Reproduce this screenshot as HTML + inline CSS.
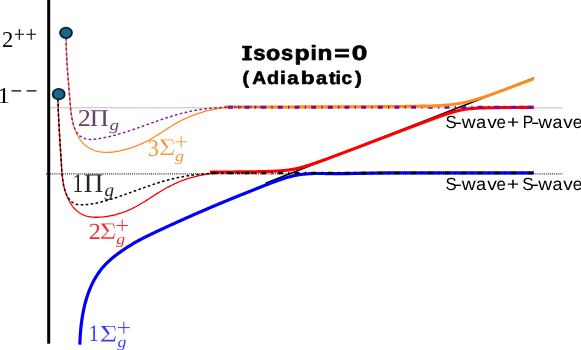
<!DOCTYPE html>
<html><head><meta charset="utf-8">
<style>
html,body{margin:0;padding:0;background:#fff;overflow:hidden;}
svg{display:block;will-change:transform;}
text{text-rendering:geometricPrecision;}
</style></head><body>
<svg width="581" height="350" viewBox="0 0 581 350">
<rect width="581" height="350" fill="#fff"/>
<!-- guides -->
<line x1="47" y1="107.8" x2="563" y2="107.8" stroke="#c0c0c0" stroke-width="1.1"/>
<line x1="46" y1="173.8" x2="563" y2="173.8" stroke="#2a2a2a" stroke-width="1.2" stroke-dasharray="1 1.1"/>
<!-- diabatic black line -->
<path d="M265.5 183.2 L533.9 77.95" fill="none" stroke="#000" stroke-width="1.5"/>
<!-- thin curves -->
<path d="M66.13 37.84 L66.14 38.88 L66.15 39.92 L66.16 40.95 L66.18 41.98 L66.20 43.01 L66.22 44.04 L66.24 45.06 L66.26 46.08 L66.29 47.10 L66.32 48.12 L66.35 49.13 L66.39 50.15 L66.43 51.16 L66.46 52.16 L66.50 53.17 L66.55 54.17 L66.59 55.18 L66.64 56.18 L66.69 57.18 L66.74 58.18 L66.79 59.17 L66.84 60.17 L66.90 61.17 L66.95 62.16 L67.01 63.15 L67.07 64.14 L67.13 65.14 L67.20 66.13 L67.26 67.12 L67.33 68.11 L67.39 69.09 L67.46 70.08 L67.53 71.07 L67.60 72.06 L67.68 73.05 L67.75 74.03 L67.82 75.02 L67.90 76.01 L67.98 77.00 L68.05 77.99 L68.13 78.98 L68.21 79.97 L68.29 80.96 L68.37 81.95 L68.45 82.94 L68.54 83.93 L68.62 84.93 L68.70 85.92 L68.79 86.92 L68.87 87.92 L68.96 88.91 L69.04 89.91 L69.13 90.92 L69.22 91.92 L69.30 92.92 L69.39 93.93 L69.48 94.94 L69.57 95.95 L69.65 96.96 L69.74 97.97 L69.83 98.99 L69.92 100.01 L70.01 101.03 L70.10 102.05 L70.19 103.08 L70.28 104.10 L70.37 105.13 L70.47 106.16 L70.57 107.19 L70.68 108.21 L70.79 109.24 L70.90 110.27 L71.03 111.29 L71.15 112.32 L71.29 113.34 L71.43 114.36 L71.58 115.38 L71.74 116.40 L71.91 117.41 L72.09 118.42 L72.28 119.43 L72.48 120.43 L72.70 121.43 L72.92 122.42 L73.16 123.41 L73.41 124.39 L73.68 125.37 L73.96 126.34 L74.25 127.31 L74.56 128.27 L74.89 129.22 L75.24 130.16 L75.60 131.10 L75.98 132.03 L76.38 132.95 L76.80 133.86 L77.24 134.76 L77.69 135.65 L78.17 136.52 L78.66 137.37 L79.18 138.22 L79.72 139.04 L80.28 139.84 L80.86 140.63 L81.46 141.40 L82.08 142.14 L82.73 142.86 L83.39 143.56 L84.09 144.23 L84.80 144.88 L85.54 145.50 L86.29 146.09 L87.07 146.66 L87.87 147.20 L88.68 147.71 L89.51 148.20 L90.36 148.66 L91.23 149.10 L92.11 149.51 L93.00 149.89 L93.91 150.24 L94.83 150.57 L95.77 150.87 L96.71 151.14 L97.66 151.39 L98.63 151.61 L99.60 151.80 L100.58 151.96 L101.56 152.10 L102.55 152.21 L103.55 152.29 L104.55 152.35 L105.56 152.39 L106.57 152.41 L107.59 152.40 L108.61 152.37 L109.63 152.32 L110.65 152.25 L111.68 152.16 L112.70 152.05 L113.73 151.93 L114.76 151.79 L115.78 151.63 L116.81 151.46 L117.83 151.28 L118.85 151.08 L119.87 150.87 L120.89 150.65 L121.90 150.41 L122.91 150.17 L123.91 149.92 L124.91 149.66 L125.90 149.39 L126.89 149.11 L127.87 148.82 L128.85 148.53 L129.82 148.22 L130.78 147.91 L131.75 147.59 L132.70 147.27 L133.66 146.93 L134.60 146.59 L135.55 146.24 L136.48 145.88 L137.42 145.51 L138.34 145.13 L139.27 144.75 L140.19 144.36 L141.10 143.96 L142.01 143.55 L142.92 143.14 L143.82 142.71 L144.72 142.28 L145.61 141.85 L146.50 141.40 L147.39 140.95 L148.27 140.48 L149.15 140.02 L150.02 139.54 L150.89 139.05 L151.76 138.56 L152.62 138.06 L153.48 137.56 L154.34 137.05 L155.19 136.53 L156.04 136.00 L156.89 135.47 L157.74 134.94 L158.58 134.40 L159.43 133.86 L160.27 133.32 L161.11 132.78 L161.95 132.23 L162.79 131.68 L163.63 131.13 L164.47 130.58 L165.31 130.03 L166.15 129.48 L166.99 128.94 L167.84 128.39 L168.68 127.85 L169.53 127.31 L170.38 126.77 L171.23 126.24 L172.09 125.71 L172.94 125.19 L173.81 124.67 L174.67 124.16 L175.54 123.66 L176.41 123.16 L177.29 122.67 L178.17 122.19 L179.05 121.71 L179.94 121.24 L180.84 120.78 L181.73 120.33 L182.63 119.88 L183.54 119.45 L184.45 119.02 L185.36 118.59 L186.27 118.18 L187.19 117.77 L188.11 117.37 L189.04 116.97 L189.97 116.59 L190.90 116.21 L191.84 115.84 L192.78 115.48 L193.72 115.12 L194.66 114.77 L195.61 114.43 L196.56 114.10 L197.51 113.77 L198.47 113.45 L199.43 113.14 L200.39 112.84 L201.35 112.54 L202.32 112.26 L203.28 111.98 L204.25 111.70 L205.23 111.44 L206.20 111.18 L207.18 110.93 L208.16 110.69 L209.14 110.45 L210.12 110.22 L211.10 110.00 L212.09 109.79 L213.07 109.58 L214.06 109.38 L215.05 109.19 L216.04 109.01 L217.04 108.84 L218.03 108.67 L219.03 108.51 L220.02 108.36 L221.02 108.21 L222.02 108.07 L223.02 107.94 L224.02 107.82 L225.02 107.71 L226.02 107.60 L227.02 107.50" fill="none" stroke="#ff8c1a" stroke-width="1.3"/>
<path d="M57.90 98.96 L57.94 99.99 L57.98 101.01 L58.01 102.03 L58.05 103.05 L58.09 104.07 L58.13 105.09 L58.17 106.10 L58.21 107.11 L58.25 108.13 L58.30 109.14 L58.34 110.15 L58.38 111.16 L58.43 112.17 L58.47 113.17 L58.51 114.18 L58.56 115.18 L58.61 116.19 L58.65 117.19 L58.70 118.19 L58.75 119.19 L58.79 120.19 L58.84 121.19 L58.89 122.19 L58.94 123.19 L58.99 124.19 L59.04 125.19 L59.09 126.18 L59.14 127.18 L59.19 128.17 L59.25 129.17 L59.30 130.17 L59.35 131.16 L59.40 132.15 L59.46 133.15 L59.51 134.14 L59.57 135.14 L59.62 136.13 L59.68 137.13 L59.74 138.12 L59.79 139.11 L59.85 140.11 L59.91 141.10 L59.97 142.10 L60.03 143.09 L60.09 144.09 L60.15 145.08 L60.21 146.08 L60.27 147.07 L60.33 148.07 L60.39 149.07 L60.45 150.06 L60.51 151.06 L60.58 152.06 L60.64 153.06 L60.70 154.06 L60.77 155.06 L60.83 156.06 L60.90 157.06 L60.96 158.07 L61.03 159.07 L61.09 160.08 L61.16 161.08 L61.23 162.09 L61.30 163.10 L61.36 164.11 L61.43 165.12 L61.50 166.13 L61.57 167.14 L61.64 168.16 L61.72 169.17 L61.79 170.19 L61.88 171.20 L61.96 172.21 L62.05 173.23 L62.15 174.24 L62.25 175.26 L62.36 176.27 L62.47 177.28 L62.60 178.29 L62.73 179.30 L62.87 180.31 L63.03 181.32 L63.19 182.32 L63.36 183.32 L63.55 184.32 L63.75 185.32 L63.96 186.32 L64.18 187.31 L64.42 188.30 L64.68 189.28 L64.95 190.26 L65.23 191.24 L65.54 192.22 L65.86 193.19 L66.20 194.15 L66.55 195.11 L66.93 196.07 L67.32 197.01 L67.73 197.95 L68.15 198.87 L68.60 199.79 L69.06 200.69 L69.55 201.57 L70.05 202.45 L70.56 203.31 L71.10 204.15 L71.66 204.97 L72.23 205.77 L72.82 206.56 L73.44 207.32 L74.07 208.06 L74.72 208.78 L75.38 209.48 L76.07 210.14 L76.78 210.79 L77.50 211.40 L78.25 211.99 L79.01 212.54 L79.80 213.07 L80.60 213.56 L81.42 214.03 L82.27 214.45 L83.13 214.85 L84.01 215.21 L84.90 215.53 L85.82 215.83 L86.75 216.09 L87.69 216.33 L88.65 216.54 L89.61 216.72 L90.59 216.87 L91.58 217.00 L92.58 217.10 L93.59 217.17 L94.61 217.23 L95.63 217.26 L96.66 217.27 L97.69 217.26 L98.73 217.23 L99.76 217.18 L100.80 217.12 L101.84 217.04 L102.88 216.94 L103.92 216.83 L104.96 216.70 L105.99 216.56 L107.02 216.41 L108.04 216.24 L109.06 216.07 L110.08 215.88 L111.09 215.68 L112.09 215.47 L113.09 215.25 L114.09 215.02 L115.08 214.77 L116.07 214.51 L117.05 214.25 L118.03 213.97 L119.00 213.68 L119.97 213.38 L120.94 213.07 L121.89 212.75 L122.85 212.42 L123.80 212.08 L124.74 211.73 L125.68 211.36 L126.62 210.99 L127.54 210.61 L128.47 210.22 L129.39 209.82 L130.30 209.41 L131.21 208.99 L132.11 208.56 L133.01 208.12 L133.91 207.67 L134.79 207.22 L135.68 206.75 L136.55 206.28 L137.43 205.80 L138.30 205.31 L139.16 204.81 L140.02 204.31 L140.88 203.80 L141.74 203.29 L142.59 202.77 L143.44 202.25 L144.29 201.72 L145.13 201.19 L145.98 200.66 L146.82 200.12 L147.66 199.59 L148.50 199.05 L149.34 198.50 L150.18 197.96 L151.02 197.42 L151.86 196.87 L152.70 196.33 L153.54 195.79 L154.38 195.25 L155.23 194.71 L156.07 194.17 L156.92 193.64 L157.77 193.11 L158.62 192.58 L159.47 192.05 L160.33 191.53 L161.19 191.02 L162.05 190.51 L162.92 190.00 L163.79 189.50 L164.66 189.00 L165.53 188.51 L166.41 188.02 L167.28 187.54 L168.17 187.06 L169.05 186.59 L169.94 186.13 L170.83 185.67 L171.72 185.22 L172.62 184.77 L173.52 184.33 L174.43 183.90 L175.33 183.48 L176.24 183.06 L177.16 182.65 L178.08 182.25 L179.00 181.86 L179.92 181.47 L180.85 181.10 L181.78 180.73 L182.71 180.37 L183.65 180.02 L184.59 179.67 L185.54 179.34 L186.49 179.02 L187.44 178.71 L188.40 178.40 L189.36 178.11 L190.32 177.82 L191.29 177.55 L192.27 177.29 L193.24 177.03 L194.22 176.79 L195.20 176.55 L196.19 176.32 L197.17 176.10 L198.16 175.89 L199.15 175.68 L200.15 175.48 L201.14 175.29 L202.14 175.10 L203.13 174.91 L204.13 174.73 L205.12 174.55 L206.12 174.38 L207.12 174.20 L208.11 174.03 L209.11 173.87 L210.10 173.70 L211.09 173.53 L212.08 173.37 L213.07 173.20 L214.06 173.03 L215.04 172.86 L216.02 172.69" fill="none" stroke="#ff0000" stroke-width="1.3"/>
<!-- thick adiabatic -->
<path d="M79.84 344.67 L79.87 343.69 L79.91 342.71 L79.94 341.72 L79.99 340.74 L80.03 339.75 L80.08 338.76 L80.14 337.77 L80.20 336.77 L80.26 335.77 L80.32 334.77 L80.39 333.77 L80.47 332.77 L80.55 331.77 L80.63 330.77 L80.72 329.76 L80.82 328.75 L80.92 327.75 L81.02 326.74 L81.13 325.73 L81.25 324.72 L81.37 323.72 L81.49 322.71 L81.62 321.70 L81.76 320.69 L81.90 319.68 L82.05 318.67 L82.20 317.67 L82.37 316.66 L82.53 315.66 L82.70 314.65 L82.88 313.65 L83.07 312.65 L83.26 311.65 L83.46 310.65 L83.67 309.65 L83.88 308.66 L84.10 307.66 L84.33 306.67 L84.56 305.69 L84.80 304.70 L85.05 303.72 L85.31 302.74 L85.57 301.76 L85.84 300.78 L86.12 299.81 L86.41 298.84 L86.70 297.88 L87.01 296.92 L87.32 295.96 L87.64 295.00 L87.97 294.05 L88.30 293.11 L88.65 292.17 L89.00 291.23 L89.37 290.30 L89.74 289.37 L90.12 288.45 L90.51 287.53 L90.91 286.61 L91.32 285.71 L91.74 284.80 L92.16 283.91 L92.60 283.01 L93.05 282.13 L93.50 281.25 L93.97 280.37 L94.45 279.51 L94.93 278.65 L95.43 277.79 L95.94 276.94 L96.46 276.10 L96.98 275.27 L97.52 274.44 L98.07 273.62 L98.63 272.80 L99.21 272.00 L99.79 271.20 L100.38 270.41 L100.99 269.63 L101.60 268.85 L102.23 268.09 L102.87 267.33 L103.52 266.58 L104.19 265.84 L104.86 265.10 L105.55 264.38 L106.24 263.66 L106.95 262.96 L107.67 262.26 L108.39 261.56 L109.13 260.88 L109.88 260.20 L110.63 259.53 L111.39 258.87 L112.17 258.21 L112.94 257.57 L113.73 256.92 L114.52 256.29 L115.32 255.66 L116.13 255.04 L116.94 254.42 L117.76 253.81 L118.58 253.21 L119.40 252.61 L120.23 252.02 L121.07 251.43 L121.91 250.85 L122.75 250.28 L123.59 249.71 L124.44 249.14 L125.29 248.58 L126.14 248.02 L127.00 247.47 L127.85 246.92 L128.71 246.38 L129.57 245.84 L130.42 245.31 L131.29 244.78 L132.15 244.26 L133.02 243.74 L133.88 243.22 L134.75 242.71 L135.62 242.21 L136.49 241.71 L137.37 241.22 L138.25 240.73 L139.13 240.25 L140.01 239.77 L140.89 239.30 L141.77 238.83 L142.66 238.37 L143.55 237.91 L144.44 237.46 L145.33 237.01 L146.22 236.57 L147.12 236.13 L148.02 235.69 L148.91 235.25 L149.81 234.82 L150.71 234.38 L151.61 233.95 L152.51 233.53 L153.41 233.10 L154.32 232.67 L155.22 232.24 L156.12 231.82 L157.03 231.39 L157.93 230.97 L158.84 230.54 L159.74 230.12 L160.65 229.70 L161.55 229.28 L162.46 228.85 L163.37 228.43 L164.28 228.01 L165.19 227.59 L166.10 227.17 L167.00 226.75 L167.91 226.33 L168.83 225.91 L169.74 225.50 L170.65 225.08 L171.56 224.66 L172.47 224.25 L173.38 223.83 L174.30 223.42 L175.21 223.00 L176.13 222.59 L177.04 222.17 L177.95 221.76 L178.87 221.35 L179.79 220.94 L180.70 220.52 L181.62 220.11 L182.54 219.70 L183.45 219.29 L184.37 218.88 L185.29 218.47 L186.21 218.07 L187.13 217.66 L188.05 217.25 L188.97 216.84 L189.89 216.44 L190.81 216.03 L191.73 215.63 L192.65 215.22 L193.57 214.82 L194.49 214.41 L195.41 214.01 L196.34 213.61 L197.26 213.21 L198.18 212.81 L199.11 212.40 L200.03 212.00 L200.95 211.60 L201.88 211.20 L202.80 210.81 L203.73 210.41 L204.65 210.01 L205.58 209.61 L206.51 209.21 L207.43 208.82 L208.36 208.42 L209.29 208.03 L210.21 207.63 L211.14 207.24 L212.07 206.84 L213.00 206.45 L213.92 206.06 L214.85 205.67 L215.78 205.27 L216.71 204.88 L217.64 204.49 L218.57 204.10 L219.50 203.71 L220.43 203.32 L221.36 202.93 L222.29 202.55 L223.22 202.16 L224.15 201.77 L225.08 201.39 L226.02 201.00 L226.95 200.61 L227.88 200.23 L228.81 199.84 L229.74 199.46 L230.68 199.08 L231.61 198.69 L232.54 198.31 L233.47 197.93 L234.41 197.55 L235.34 197.17 L236.27 196.79 L237.21 196.41 L238.14 196.03 L239.08 195.65 L240.01 195.27 L240.94 194.89 L241.88 194.51 L242.81 194.14 L243.75 193.76 L244.68 193.39 L245.62 193.01 L246.55 192.64 L247.49 192.26 L248.42 191.89 L249.36 191.51 L250.29 191.14 L251.23 190.77 L252.17 190.40 L253.10 190.03 L254.04 189.66 L254.97 189.29 L255.91 188.92 L256.85 188.55 L257.78 188.18 L258.72 187.81 L259.65 187.44 L260.59 187.07 L261.53 186.71 L262.46 186.34 L263.40 185.98 L264.34 185.61 L265.27 185.25 L266.21 184.88 L267.15 184.52 L268.08 184.16 L269.02 183.79 L269.96 183.43 L270.90 183.07 L271.83 182.71 L272.77 182.36 L273.71 182.01 L274.65 181.66 L275.59 181.31 L276.53 180.97 L277.47 180.63 L278.42 180.29 L279.36 179.96 L280.31 179.63 L281.25 179.31 L282.20 179.00 L283.15 178.69 L284.10 178.39 L285.05 178.09 L286.01 177.80 L286.96 177.52 L287.92 177.24 L288.88 176.98 L289.85 176.72 L290.81 176.47 L291.78 176.23 L292.75 175.99 L293.72 175.77 L294.69 175.56 L295.67 175.36 L296.65 175.17 L297.63 174.98 L298.61 174.81 L299.60 174.66 L300.59 174.51 L301.59 174.38 L302.58 174.25 L303.58 174.14 L304.59 174.04 L305.59 173.95 L306.60 173.86 L307.60 173.79 L308.62 173.73 L309.63 173.67 L310.64 173.62 L311.66 173.58 L312.67 173.54 L313.69 173.52 L314.71 173.50 L315.73 173.50 L316.75 173.50 L317.77 173.50 L318.79 173.50 L319.81 173.50 L320.84 173.50 L321.86 173.50 L322.88 173.50 L323.90 173.50 L324.92 173.52 L325.94 173.54 L326.96 173.56 L327.98 173.57 L329.00 173.59 L330.01 173.61 L331.03 173.63 L332.04 173.65 L333.05 173.66 L334.06 173.68 L335.07 173.69 L336.07 173.69 L337.08 173.70 L338.08 173.70 L339.08 173.70 L340.07 173.69 L341.06 173.68 L342.05 173.66 L343.04 173.63 L344.02 173.60 L345.00 173.57 L355 173.4 L372 173.1 L390 172.95 L533.9 172.9" fill="none" stroke="#0000f5" stroke-width="3.2" stroke-linejoin="round"/>
<path d="M210.00 172.05 L211.00 172.05 L212.00 172.04 L213.00 172.04 L214.00 172.03 L215.00 172.03 L216.00 172.03 L217.00 172.02 L218.00 172.02 L219.00 172.01 L220.00 172.01 L221.00 172.00 L222.00 172.00 L223.00 171.99 L224.00 171.99 L225.00 171.98 L226.00 171.98 L227.00 171.97 L228.00 171.97 L229.00 171.96 L230.00 171.96 L231.00 171.95 L232.00 171.94 L233.00 171.94 L234.00 171.93 L235.00 171.92 L236.00 171.91 L237.00 171.91 L238.00 171.90 L239.00 171.89 L240.00 171.88 L241.00 171.87 L242.00 171.86 L243.00 171.86 L244.00 171.85 L245.00 171.84 L246.00 171.82 L247.00 171.81 L248.00 171.80 L249.00 171.79 L250.00 171.78 L251.00 171.77 L252.00 171.75 L253.00 171.74 L254.00 171.72 L255.00 171.71 L256.00 171.69 L257.00 171.67 L258.00 171.66 L259.00 171.64 L260.00 171.62 L261.00 171.60 L262.00 171.58 L263.00 171.55 L264.00 171.53 L265.00 171.50 L266.00 171.48 L267.00 171.45 L268.00 171.42 L269.00 171.39 L270.00 171.35 L271.00 171.31 L272.00 171.28 L273.00 171.23 L274.00 171.19 L275.00 171.14 L276.00 171.09 L277.00 171.04 L278.00 170.98 L279.00 170.92 L280.00 170.85 L281.00 170.77 L282.00 170.70 L283.00 170.61 L284.00 170.52 L285.00 170.42 L286.00 170.31 L287.00 170.20 L288.00 170.07 L289.00 169.94 L290.00 169.79 L291.00 169.64 L292.00 169.47 L293.00 169.30 L294.00 169.11 L295.00 168.91 L296.00 168.70 L297.00 168.48 L298.00 168.24 L299.00 168.00 L300.00 167.75 L301.00 167.48 L302.00 167.21 L303.00 166.93 L304.00 166.64 L305.00 166.35 L306.00 166.05 L307.00 165.74 L308.00 165.43 L309.00 165.11 L310.00 164.78 L311.00 164.46 L312.00 164.12 L313.00 163.79 L314.00 163.45 L315.00 163.11 L316.00 162.76 L317.00 162.42 L318.00 162.07 L319.00 161.71 L320.00 161.36 L321.00 161.00 L322.00 160.65 L323.00 160.29 L324.00 159.93 L325.00 159.56 L326.00 159.20 L327.00 158.84 L328.00 158.47 L329.00 158.11 L330.00 157.74 L331.00 157.37 L332.00 157.00 L333.00 156.63 L334.00 156.26 L335.00 155.89 L336.00 155.52 L337.00 155.15 L338.00 154.77 L339.00 154.40 L340.00 154.02 L341.00 153.65 L342.00 153.28 L343.00 152.90 L344.00 152.52 L345.00 152.15 L346.00 151.77 L347.00 151.40 L348.00 151.02 L349.00 150.64 L350.00 150.26 L351.00 149.89 L352.00 149.51 L353.00 149.13 L354.00 148.75 L355.00 148.37 L356.00 148.00 L357.00 147.62 L358.00 147.24 L359.00 146.86 L360.00 146.48 L361.00 146.10 L362.00 145.72 L363.00 145.34 L364.00 144.96 L365.00 144.58 L366.00 144.20 L367.00 143.82 L368.00 143.44 L369.00 143.06 L370.00 142.68 L371.00 142.30 L372.00 141.92 L373.00 141.54 L374.00 141.16 L375.00 140.78 L376.00 140.39 L377.00 140.01 L378.00 139.63 L379.00 139.25 L380.00 138.87 L381.00 138.49 L382.00 138.11 L383.00 137.73 L384.00 137.35 L385.00 136.97 L386.00 136.59 L387.00 136.21 L388.00 135.82 L389.00 135.44 L390.00 135.06 L391.00 134.68 L392.00 134.30 L393.00 133.92 L394.00 133.54 L395.00 133.16 L396.00 132.78 L397.00 132.40 L398.00 132.02 L399.00 131.64 L400.00 131.26 L401.00 130.88 L402.00 130.50 L403.00 130.12 L404.00 129.74 L405.00 129.36 L406.00 128.98 L407.00 128.60 L408.00 128.22 L409.00 127.84 L410.00 127.47 L411.00 127.09 L412.00 126.71 L413.00 126.33 L414.00 125.95 L415.00 125.58 L416.00 125.20 L417.00 124.82 L418.00 124.45 L419.00 124.07 L420.00 123.70 L421.00 123.32 L422.00 122.95 L423.00 122.57 L424.00 122.20 L425.00 121.83 L426.00 121.46 L427.00 121.08 L428.00 120.71 L429.00 120.34 L430.00 119.97 L431.00 119.61 L432.00 119.24 L433.00 118.87 L434.00 118.51 L435.00 118.14 L436.00 117.78 L437.00 117.42 L438.00 117.06 L439.00 116.70 L440.00 116.35 L441.00 115.99 L442.00 115.64 L443.00 115.30 L444.00 114.95 L445.00 114.61 L446.00 114.27 L447.00 113.94 L448.00 113.61 L449.00 113.28 L450.00 112.96 L451.00 112.65 L452.00 112.35 L453.00 112.05 L454.00 111.76 L455.00 111.48 L456.00 111.20 L457.00 110.94 L458.00 110.69 L459.00 110.46 L460.00 110.23 L461.00 110.02 L462.00 109.82 L463.00 109.64 L464.00 109.46 L465.00 109.30 L466.00 109.16 L467.00 109.02 L468.00 108.90 L469.00 108.79 L470.00 108.68 L471.00 108.59 L472.00 108.50 L473.00 108.43 L474.00 108.35 L475.00 108.29 L476.00 108.23 L477.00 108.17 L478.00 108.12 L479.00 108.07 L480.00 108.03 L481.00 107.99 L482.00 107.95 L483.00 107.92 L484.00 107.89 L485.00 107.86 L486.00 107.83 L487.00 107.80 L488.00 107.78 L489.00 107.76 L490.00 107.74 L491.00 107.72 L492.00 107.70 L493.00 107.68 L494.00 107.66 L495.00 107.65 L496.00 107.63 L497.00 107.62 L498.00 107.60 L499.00 107.59 L500.00 107.58 L501.00 107.57 L502.00 107.55 L503.00 107.54 L504.00 107.53 L505.00 107.52 L506.00 107.52 L507.00 107.51 L508.00 107.50 L509.00 107.49 L510.00 107.48 L511.00 107.47 L512.00 107.47 L513.00 107.46 L514.00 107.45 L515.00 107.45 L516.00 107.44 L517.00 107.44 L518.00 107.43 L519.00 107.42 L520.00 107.42 L521.00 107.41 L522.00 107.41 L523.00 107.40 L524.00 107.40 L525.00 107.40 L526.00 107.39 L527.00 107.39 L528.00 107.38 L529.00 107.38 L530.00 107.38 L531.00 107.37 L532.00 107.37 L533.00 107.36 L533.90 107.36" fill="none" stroke="#ff0000" stroke-width="3.1" stroke-linejoin="round"/>
<path d="M224.50 107.01 L225.50 107.01 L226.50 107.01 L227.50 107.01 L228.50 107.01 L229.50 107.00 L230.50 107.00 L231.50 107.00 L232.50 107.00 L233.50 107.00 L234.50 107.00 L235.50 107.00 L236.50 107.00 L237.50 107.00 L238.50 107.00 L239.50 107.00 L240.50 106.99 L241.50 106.99 L242.50 106.99 L243.50 106.99 L244.50 106.99 L245.50 106.99 L246.50 106.99 L247.50 106.99 L248.50 106.99 L249.50 106.99 L250.50 106.99 L251.50 106.98 L252.50 106.98 L253.50 106.98 L254.50 106.98 L255.50 106.98 L256.50 106.98 L257.50 106.98 L258.50 106.98 L259.50 106.98 L260.50 106.97 L261.50 106.97 L262.50 106.97 L263.50 106.97 L264.50 106.97 L265.50 106.97 L266.50 106.97 L267.50 106.97 L268.50 106.97 L269.50 106.96 L270.50 106.96 L271.50 106.96 L272.50 106.96 L273.50 106.96 L274.50 106.96 L275.50 106.96 L276.50 106.96 L277.50 106.95 L278.50 106.95 L279.50 106.95 L280.50 106.95 L281.50 106.95 L282.50 106.95 L283.50 106.95 L284.50 106.94 L285.50 106.94 L286.50 106.94 L287.50 106.94 L288.50 106.94 L289.50 106.94 L290.50 106.94 L291.50 106.93 L292.50 106.93 L293.50 106.93 L294.50 106.93 L295.50 106.93 L296.50 106.93 L297.50 106.92 L298.50 106.92 L299.50 106.92 L300.50 106.92 L301.50 106.92 L302.50 106.92 L303.50 106.91 L304.50 106.91 L305.50 106.91 L306.50 106.91 L307.50 106.91 L308.50 106.90 L309.50 106.90 L310.50 106.90 L311.50 106.90 L312.50 106.90 L313.50 106.89 L314.50 106.89 L315.50 106.89 L316.50 106.89 L317.50 106.89 L318.50 106.88 L319.50 106.88 L320.50 106.88 L321.50 106.88 L322.50 106.88 L323.50 106.87 L324.50 106.87 L325.50 106.87 L326.50 106.87 L327.50 106.86 L328.50 106.86 L329.50 106.86 L330.50 106.86 L331.50 106.85 L332.50 106.85 L333.50 106.85 L334.50 106.85 L335.50 106.84 L336.50 106.84 L337.50 106.84 L338.50 106.83 L339.50 106.83 L340.50 106.83 L341.50 106.83 L342.50 106.82 L343.50 106.82 L344.50 106.82 L345.50 106.81 L346.50 106.81 L347.50 106.81 L348.50 106.80 L349.50 106.80 L350.50 106.80 L351.50 106.79 L352.50 106.79 L353.50 106.78 L354.50 106.78 L355.50 106.78 L356.50 106.77 L357.50 106.77 L358.50 106.76 L359.50 106.76 L360.50 106.76 L361.50 106.75 L362.50 106.75 L363.50 106.74 L364.50 106.74 L365.50 106.73 L366.50 106.73 L367.50 106.72 L368.50 106.72 L369.50 106.71 L370.50 106.71 L371.50 106.70 L372.50 106.70 L373.50 106.69 L374.50 106.69 L375.50 106.68 L376.50 106.68 L377.50 106.67 L378.50 106.66 L379.50 106.66 L380.50 106.65 L381.50 106.64 L382.50 106.64 L383.50 106.63 L384.50 106.62 L385.50 106.62 L386.50 106.61 L387.50 106.60 L388.50 106.59 L389.50 106.59 L390.50 106.58 L391.50 106.57 L392.50 106.56 L393.50 106.55 L394.50 106.54 L395.50 106.53 L396.50 106.52 L397.50 106.51 L398.50 106.50 L399.50 106.49 L400.50 106.48 L401.50 106.47 L402.50 106.46 L403.50 106.45 L404.50 106.43 L405.50 106.42 L406.50 106.41 L407.50 106.39 L408.50 106.38 L409.50 106.37 L410.50 106.35 L411.50 106.34 L412.50 106.32 L413.50 106.30 L414.50 106.29 L415.50 106.27 L416.50 106.25 L417.50 106.23 L418.50 106.21 L419.50 106.19 L420.50 106.17 L421.50 106.15 L422.50 106.12 L423.50 106.10 L424.50 106.07 L425.00 106.06" fill="none" stroke="#ff8c1a" stroke-width="3.1"/>
<!-- threshold dash-dot -->
<line x1="211.3" y1="173.1" x2="533.9" y2="173.1" stroke="#000" stroke-width="2.5" stroke-dasharray="4.9 5.3 1.2 5.26"/>
<line x1="227.9" y1="107.2" x2="533.9" y2="107.2" stroke="#7a0a9a" stroke-width="3" stroke-dasharray="4.9 5.3 1.2 5.26"/>
<path d="M420.00 106.18 L421.00 106.16 L422.00 106.13 L423.00 106.11 L424.00 106.08 L425.00 106.06 L426.00 106.03 L427.00 106.00 L428.00 105.97 L429.00 105.94 L430.00 105.91 L431.00 105.87 L432.00 105.84 L433.00 105.80 L434.00 105.76 L435.00 105.72 L436.00 105.68 L437.00 105.63 L438.00 105.58 L439.00 105.53 L440.00 105.47 L441.00 105.42 L442.00 105.36 L443.00 105.29 L444.00 105.22 L445.00 105.15 L446.00 105.07 L447.00 104.99 L448.00 104.91 L449.00 104.82 L450.00 104.72 L451.00 104.61 L452.00 104.50 L453.00 104.39 L454.00 104.26 L455.00 104.13 L456.00 104.00 L457.00 103.85 L458.00 103.69 L459.00 103.53 L460.00 103.36 L461.00 103.18 L462.00 102.99 L463.00 102.79 L464.00 102.58 L465.00 102.36 L466.00 102.14 L467.00 101.91 L468.00 101.66 L469.00 101.41 L470.00 101.16 L471.00 100.89 L472.00 100.62 L473.00 100.34 L474.00 100.06 L475.00 99.76 L476.00 99.47 L477.00 99.17 L478.00 98.86 L479.00 98.55 L480.00 98.23 L481.00 97.91 L482.00 97.59 L483.00 97.26 L484.00 96.93 L485.00 96.60 L486.00 96.26 L487.00 95.92 L488.00 95.58 L489.00 95.24 L490.00 94.89 L491.00 94.54 L492.00 94.19 L493.00 93.84 L494.00 93.49 L495.00 93.13 L496.00 92.78 L497.00 92.42 L498.00 92.06 L499.00 91.70 L500.00 91.34 L501.00 90.98 L502.00 90.61 L503.00 90.25 L504.00 89.88 L505.00 89.52 L506.00 89.15 L507.00 88.78 L508.00 88.41 L509.00 88.04 L510.00 87.67 L511.00 87.30 L512.00 86.93 L513.00 86.56 L514.00 86.19 L515.00 85.81 L516.00 85.44 L517.00 85.07 L518.00 84.69 L519.00 84.32 L520.00 83.94 L521.00 83.57 L522.00 83.19 L523.00 82.81 L524.00 82.44 L525.00 82.06 L526.00 81.68 L527.00 81.31 L528.00 80.93 L529.00 80.55 L530.00 80.17 L531.00 79.79 L532.00 79.42 L533.00 79.04 L533.90 78.69" fill="none" stroke="#ff8c1a" stroke-width="2.9" stroke-linejoin="round"/>
<path d="M66.15 37.84 L66.15 38.88 L66.15 39.92 L66.15 40.95 L66.16 41.98 L66.17 43.01 L66.19 44.03 L66.20 45.05 L66.23 46.07 L66.25 47.09 L66.28 48.11 L66.31 49.12 L66.34 50.13 L66.37 51.14 L66.41 52.15 L66.45 53.16 L66.49 54.16 L66.54 55.16 L66.59 56.16 L66.64 57.16 L66.69 58.16 L66.74 59.16 L66.80 60.15 L66.86 61.15 L66.92 62.14 L66.98 63.13 L67.05 64.13 L67.11 65.12 L67.18 66.11 L67.25 67.10 L67.32 68.09 L67.39 69.07 L67.46 70.06 L67.54 71.05 L67.61 72.04 L67.69 73.03 L67.77 74.02 L67.85 75.00 L67.93 75.99 L68.01 76.98 L68.09 77.97 L68.17 78.96 L68.25 79.95 L68.33 80.94 L68.42 81.93 L68.50 82.93 L68.58 83.92 L68.67 84.91 L68.75 85.91 L68.83 86.90 L68.92 87.90 L69.00 88.90 L69.08 89.90 L69.17 90.90 L69.25 91.91 L69.33 92.91 L69.41 93.92 L69.50 94.93 L69.58 95.94 L69.66 96.95 L69.74 97.97 L69.81 98.99 L69.89 100.00 L69.97 101.03 L70.05 102.05 L70.12 103.08 L70.20 104.10 L70.28 105.13 L70.37 106.16 L70.46 107.19 L70.55 108.23 L70.65 109.26 L70.75 110.29 L70.87 111.32 L70.99 112.36 L71.12 113.39 L71.26 114.42 L71.41 115.45 L71.58 116.48 L71.75 117.51 L71.94 118.53 L72.14 119.56 L72.36 120.58 L72.59 121.60 L72.84 122.62 L73.11 123.63 L73.40 124.63 L73.71 125.62 L74.04 126.59 L74.39 127.55 L74.76 128.49 L75.16 129.41 L75.59 130.29 L76.04 131.15 L76.52 131.98 L77.04 132.78 L77.58 133.53 L78.15 134.25 L78.76 134.93 L79.40 135.55 L80.08 136.13 L80.79 136.67 L81.53 137.15 L82.30 137.59 L83.11 137.98 L83.93 138.33 L84.79 138.62 L85.67 138.87 L86.58 139.07 L87.50 139.22 L88.45 139.33 L89.42 139.40 L90.40 139.43 L91.40 139.43 L92.41 139.39 L93.42 139.33 L94.45 139.24 L95.48 139.13 L96.52 139.00 L97.55 138.86 L98.59 138.70 L99.63 138.53 L100.66 138.35 L101.68 138.17 L102.70 137.98 L103.72 137.78 L104.73 137.58 L105.74 137.37 L106.75 137.16 L107.75 136.94 L108.74 136.71 L109.74 136.48 L110.73 136.24 L111.72 136.00 L112.70 135.75 L113.68 135.50 L114.66 135.25 L115.63 134.99 L116.61 134.72 L117.58 134.45 L118.55 134.17 L119.51 133.90 L120.48 133.61 L121.44 133.33 L122.40 133.04 L123.36 132.74 L124.32 132.44 L125.28 132.14 L126.23 131.84 L127.19 131.53 L128.14 131.22 L129.10 130.91 L130.05 130.59 L131.00 130.28 L131.96 129.95 L132.91 129.63 L133.86 129.31 L134.81 128.98 L135.76 128.65 L136.71 128.32 L137.66 127.99 L138.61 127.65 L139.56 127.32 L140.51 126.98 L141.46 126.65 L142.41 126.31 L143.35 125.97 L144.30 125.63 L145.25 125.29 L146.20 124.95 L147.15 124.61 L148.10 124.27 L149.04 123.93 L149.99 123.59 L150.94 123.25 L151.89 122.91 L152.84 122.57 L153.79 122.23 L154.74 121.90 L155.69 121.56 L156.63 121.23 L157.58 120.89 L158.54 120.56 L159.49 120.23 L160.44 119.90 L161.39 119.58 L162.34 119.25 L163.29 118.93 L164.25 118.61 L165.20 118.29 L166.15 117.97 L167.11 117.66 L168.06 117.35 L169.02 117.05 L169.98 116.74 L170.94 116.44 L171.89 116.14 L172.85 115.85 L173.81 115.56 L174.78 115.27 L175.74 114.99 L176.70 114.71 L177.66 114.44 L178.63 114.17 L179.60 113.90 L180.56 113.64 L181.53 113.39 L182.50 113.14 L183.47 112.89 L184.44 112.65 L185.42 112.42 L186.39 112.19 L187.37 111.96 L188.34 111.74 L189.32 111.53 L190.30 111.32 L191.28 111.12 L192.27 110.93 L193.25 110.74 L194.23 110.56 L195.22 110.38 L196.21 110.21 L197.20 110.04 L198.19 109.88 L199.18 109.73 L200.17 109.58 L201.17 109.44 L202.16 109.30 L203.16 109.16 L204.15 109.03 L205.15 108.91 L206.15 108.79 L207.15 108.68 L208.15 108.57 L209.15 108.46 L210.15 108.36 L211.15 108.26 L212.16 108.17 L213.16 108.09 L214.17 108.00 L215.17 107.92 L216.18 107.85 L217.18 107.77 L218.19 107.71 L219.20 107.64 L220.21 107.58 L221.21 107.52 L222.22 107.47 L223.23 107.42 L224.24 107.37 L225.25 107.33 L226.26 107.29 L227.27 107.25 L228.28 107.21 L229.29 107.18 L230.30 107.15 L231.31 107.13 L232.32 107.10 L233.33 107.08 L234.34 107.06 L235.35 107.04 L236.36 107.03 L237.37 107.01 L238.38 107.00 L239.39 106.99 L240.40 106.99 L241.41 106.98 L242.42 106.98 L243.43 106.98 L244.44 106.98 L245.44 106.98 L246.45 106.98 L247.46 106.98 L248.46 106.99 L249.47 106.99 L250.48 107.00 L251.48 107.00 L252.48 107.01 L253.49 107.02 L254.49 107.03 L255.49 107.04 L256.49 107.05 L257.49 107.06 L258.49 107.07 L259.49 107.08 L260.49 107.10 L261.48 107.11 L262.48 107.12 L263.47 107.13 L264.47 107.14 L265.46 107.15 L266.45 107.16" fill="none" stroke="#8b1a9b" stroke-width="1.5" stroke-dasharray="2.6 2.4"/>
<path d="M57.95 98.88 L57.96 99.95 L57.98 101.02 L58.00 102.08 L58.02 103.14 L58.05 104.19 L58.07 105.24 L58.10 106.28 L58.13 107.32 L58.16 108.35 L58.20 109.38 L58.23 110.40 L58.27 111.43 L58.31 112.44 L58.35 113.46 L58.39 114.47 L58.44 115.47 L58.48 116.48 L58.53 117.48 L58.58 118.48 L58.63 119.47 L58.68 120.46 L58.73 121.45 L58.79 122.44 L58.84 123.43 L58.90 124.41 L58.95 125.40 L59.01 126.38 L59.07 127.36 L59.13 128.33 L59.19 129.31 L59.25 130.29 L59.31 131.26 L59.38 132.24 L59.44 133.21 L59.50 134.19 L59.57 135.16 L59.63 136.14 L59.70 137.11 L59.76 138.09 L59.83 139.06 L59.90 140.04 L59.96 141.01 L60.03 141.99 L60.10 142.97 L60.16 143.95 L60.23 144.93 L60.30 145.92 L60.36 146.90 L60.43 147.89 L60.50 148.88 L60.56 149.87 L60.63 150.87 L60.70 151.86 L60.76 152.86 L60.83 153.86 L60.89 154.87 L60.95 155.88 L61.02 156.89 L61.08 157.90 L61.14 158.92 L61.20 159.95 L61.26 160.97 L61.32 162.01 L61.38 163.04 L61.44 164.08 L61.50 165.13 L61.55 166.17 L61.61 167.23 L61.67 168.28 L61.73 169.34 L61.79 170.40 L61.86 171.46 L61.93 172.52 L62.00 173.58 L62.09 174.64 L62.18 175.70 L62.28 176.75 L62.38 177.80 L62.50 178.85 L62.63 179.89 L62.77 180.93 L62.92 181.96 L63.09 182.98 L63.27 183.99 L63.47 185.00 L63.68 186.00 L63.92 186.98 L64.16 187.96 L64.43 188.92 L64.72 189.88 L65.03 190.81 L65.36 191.74 L65.71 192.65 L66.09 193.55 L66.49 194.43 L66.92 195.29 L67.37 196.14 L67.85 196.97 L68.36 197.78 L68.90 198.57 L69.46 199.34 L70.06 200.08 L70.69 200.78 L71.36 201.44 L72.05 202.05 L72.79 202.61 L73.56 203.11 L74.37 203.54 L75.22 203.90 L76.10 204.19 L77.01 204.42 L77.95 204.59 L78.91 204.71 L79.89 204.79 L80.89 204.83 L81.90 204.83 L82.92 204.81 L83.94 204.76 L84.97 204.69 L85.99 204.61 L87.01 204.51 L88.02 204.40 L89.04 204.28 L90.05 204.15 L91.05 204.01 L92.06 203.86 L93.06 203.69 L94.06 203.52 L95.06 203.33 L96.05 203.14 L97.04 202.93 L98.03 202.72 L99.02 202.50 L100.01 202.27 L100.99 202.03 L101.97 201.79 L102.95 201.53 L103.93 201.28 L104.91 201.01 L105.88 200.74 L106.86 200.46 L107.83 200.18 L108.80 199.89 L109.76 199.59 L110.73 199.30 L111.70 198.99 L112.66 198.69 L113.63 198.38 L114.59 198.07 L115.55 197.75 L116.51 197.43 L117.47 197.11 L118.43 196.79 L119.39 196.46 L120.34 196.13 L121.30 195.80 L122.25 195.47 L123.21 195.13 L124.16 194.80 L125.12 194.46 L126.07 194.12 L127.02 193.78 L127.97 193.44 L128.92 193.10 L129.87 192.76 L130.83 192.41 L131.78 192.07 L132.72 191.72 L133.67 191.38 L134.62 191.03 L135.57 190.69 L136.52 190.34 L137.47 190.00 L138.42 189.65 L139.37 189.31 L140.32 188.97 L141.27 188.62 L142.21 188.28 L143.16 187.94 L144.11 187.60 L145.06 187.27 L146.01 186.93 L146.96 186.59 L147.91 186.26 L148.86 185.93 L149.81 185.60 L150.77 185.28 L151.72 184.95 L152.67 184.63 L153.62 184.31 L154.58 184.00 L155.53 183.68 L156.49 183.37 L157.44 183.06 L158.40 182.76 L159.36 182.46 L160.32 182.16 L161.27 181.87 L162.23 181.58 L163.20 181.30 L164.16 181.02 L165.12 180.74 L166.09 180.47 L167.05 180.20 L168.02 179.94 L168.99 179.68 L169.95 179.43 L170.92 179.18 L171.90 178.94 L172.87 178.70 L173.84 178.47 L174.82 178.24 L175.80 178.02 L176.78 177.81 L177.76 177.60 L178.74 177.40 L179.72 177.20 L180.71 177.01 L181.69 176.82 L182.68 176.64 L183.67 176.46 L184.65 176.29 L185.64 176.12 L186.64 175.96 L187.63 175.80 L188.62 175.65 L189.62 175.50 L190.61 175.36 L191.61 175.22 L192.60 175.09 L193.60 174.96 L194.60 174.84 L195.60 174.72 L196.60 174.60 L197.60 174.49 L198.61 174.39 L199.61 174.28 L200.61 174.18 L201.62 174.09 L202.62 174.00 L203.63 173.91 L204.63 173.83 L205.64 173.75 L206.65 173.68 L207.65 173.61 L208.66 173.54 L209.67 173.48 L210.68 173.42 L211.69 173.36 L212.70 173.30 L213.71 173.25 L214.72 173.21 L215.73 173.16 L216.74 173.12 L217.75 173.09 L218.76 173.05 L219.77 173.02 L220.78 172.99 L221.79 172.97 L222.80 172.94 L223.81 172.92 L224.82 172.90 L225.83 172.89 L226.84 172.88 L227.85 172.87 L228.86 172.86 L229.87 172.85 L230.88 172.85 L231.89 172.85 L232.90 172.85 L233.91 172.86 L234.92 172.86 L235.93 172.87 L236.94 172.88 L237.95 172.89 L238.95 172.90 L239.96 172.92 L240.97 172.93 L241.97 172.95 L242.98 172.97 L243.98 172.99 L244.98 173.02 L245.99 173.04 L246.99 173.07 L247.99 173.09 L248.99 173.12 L249.99 173.15 L250.99 173.18 L251.99 173.21 L252.99 173.24 L253.98 173.27 L254.98 173.31 L255.97 173.34" fill="none" stroke="#000" stroke-width="1.5" stroke-dasharray="2.6 2.4"/>
<!-- axis -->
<rect x="47.2" y="0" width="3" height="343.7" fill="#000"/>
<!-- circles -->
<ellipse cx="66" cy="32.85" rx="6.0" ry="5.2" fill="#1c6488" stroke="#0a2233" stroke-width="1.8"/>
<ellipse cx="58.7" cy="94.15" rx="6.0" ry="5.2" fill="#1c6488" stroke="#0a2233" stroke-width="1.8"/>
<!-- labels left -->
<text transform="matrix(0.2270 0 0 0.2265 1.902 47.000)" font-size="100" style="font-family:'Liberation Serif',serif;" fill="#000" >2</text>
<text transform="matrix(0.2556 0 0 0.2257 -2.747 103.000)" font-size="100" style="font-family:'Liberation Serif',serif;" fill="#000" >1</text>
<g stroke="#000" stroke-width="1.1" fill="none">
<path d="M14.8 34.3H24.1M19.3 29.1V39.7M26.4 34.3H36M31.2 29.1V39.7"/>
<path d="M11.5 90.9H21.2M26.7 90.9H36.4" stroke-width="1.3"/>
</g>
<path d="M242.2 45.7H251.8V48.3H249.4V57.9H251.8V60.5H242.2V57.9H244.7V48.3H242.2Z" fill="#000"/>
<text transform="matrix(0.2194 0 0 0.2075 253.213 60.100)" font-size="100" style="font-family:'Liberation Sans',sans-serif;font-weight:bold;" fill="#000" stroke="#000" stroke-width="3.5" stroke-linejoin="round" >s</text>
<text transform="matrix(0.2325 0 0 0.2075 265.999 60.100)" font-size="100" style="font-family:'Liberation Sans',sans-serif;font-weight:bold;" fill="#000" stroke="#000" stroke-width="3.5" stroke-linejoin="round" >o</text>
<text transform="matrix(0.2175 0 0 0.2075 280.916 60.100)" font-size="100" style="font-family:'Liberation Sans',sans-serif;font-weight:bold;" fill="#000" stroke="#000" stroke-width="3.5" stroke-linejoin="round" >s</text>
<text transform="matrix(0.2468 0 0 0.2075 294.605 60.100)" font-size="100" style="font-family:'Liberation Sans',sans-serif;font-weight:bold;" fill="#000" stroke="#000" stroke-width="3.5" stroke-linejoin="round" >p</text>
<text transform="matrix(0.2265 0 0 0.2075 310.515 60.100)" font-size="100" style="font-family:'Liberation Sans',sans-serif;font-weight:bold;" fill="#000" stroke="#000" stroke-width="3.5" stroke-linejoin="round" >i</text>
<text transform="matrix(0.2433 0 0 0.2075 317.422 60.100)" font-size="100" style="font-family:'Liberation Sans',sans-serif;font-weight:bold;" fill="#000" stroke="#000" stroke-width="3.5" stroke-linejoin="round" >n</text>
<text transform="matrix(0.2647 0 0 0.2075 334.265 60.100)" font-size="100" style="font-family:'Liberation Sans',sans-serif;font-weight:bold;" fill="#000" stroke="#000" stroke-width="3.5" stroke-linejoin="round" >=</text>
<text transform="matrix(0.2801 0 0 0.2075 351.782 60.100)" font-size="100" style="font-family:'Liberation Sans',sans-serif;font-weight:bold;" fill="#000" stroke="#000" stroke-width="3.5" stroke-linejoin="round" >0</text>
<text transform="matrix(0.1954 0 0 0.1810 242.469 83.650)" font-size="100" style="font-family:'Liberation Sans',sans-serif;font-weight:bold;" fill="#000" stroke="#000" stroke-width="3.5" stroke-linejoin="round" >(</text>
<text transform="matrix(0.1927 0 0 0.1810 252.257 83.650)" font-size="100" style="font-family:'Liberation Sans',sans-serif;font-weight:bold;" fill="#000" stroke="#000" stroke-width="3.5" stroke-linejoin="round" >A</text>
<text transform="matrix(0.1986 0 0 0.1810 267.033 83.650)" font-size="100" style="font-family:'Liberation Sans',sans-serif;font-weight:bold;" fill="#000" stroke="#000" stroke-width="3.5" stroke-linejoin="round" >d</text>
<text transform="matrix(0.2091 0 0 0.1810 280.106 83.650)" font-size="100" style="font-family:'Liberation Sans',sans-serif;font-weight:bold;" fill="#000" stroke="#000" stroke-width="3.5" stroke-linejoin="round" >i</text>
<text transform="matrix(0.2042 0 0 0.1810 287.159 83.650)" font-size="100" style="font-family:'Liberation Sans',sans-serif;font-weight:bold;" fill="#000" stroke="#000" stroke-width="3.5" stroke-linejoin="round" >a</text>
<text transform="matrix(0.2264 0 0 0.1810 300.704 83.650)" font-size="100" style="font-family:'Liberation Sans',sans-serif;font-weight:bold;" fill="#000" stroke="#000" stroke-width="3.5" stroke-linejoin="round" >b</text>
<text transform="matrix(0.1989 0 0 0.1810 316.065 83.650)" font-size="100" style="font-family:'Liberation Sans',sans-serif;font-weight:bold;" fill="#000" stroke="#000" stroke-width="3.5" stroke-linejoin="round" >a</text>
<text transform="matrix(0.1950 0 0 0.1810 328.903 83.650)" font-size="100" style="font-family:'Liberation Sans',sans-serif;font-weight:bold;" fill="#000" stroke="#000" stroke-width="3.5" stroke-linejoin="round" >t</text>
<text transform="matrix(0.1974 0 0 0.1810 335.567 83.650)" font-size="100" style="font-family:'Liberation Sans',sans-serif;font-weight:bold;" fill="#000" stroke="#000" stroke-width="3.5" stroke-linejoin="round" >i</text>
<text transform="matrix(0.1894 0 0 0.1810 341.592 83.650)" font-size="100" style="font-family:'Liberation Sans',sans-serif;font-weight:bold;" fill="#000" stroke="#000" stroke-width="3.5" stroke-linejoin="round" >c</text>
<text transform="matrix(0.2049 0 0 0.1810 355.039 83.650)" font-size="100" style="font-family:'Liberation Sans',sans-serif;font-weight:bold;" fill="#000" stroke="#000" stroke-width="3.5" stroke-linejoin="round" >)</text>
<text transform="matrix(0.1668 0 0 0.1770 445.543 127.800)" font-size="100" style="font-family:'Liberation Sans',sans-serif;" fill="#000"  >S</text>
<text transform="matrix(0.2580 0 0 0.1770 453.553 127.800)" font-size="100" style="font-family:'Liberation Sans',sans-serif;" fill="#000"  >-</text>
<text transform="matrix(0.1928 0 0 0.1770 461.628 127.800)" font-size="100" style="font-family:'Liberation Sans',sans-serif;" fill="#000"  >w</text>
<text transform="matrix(0.1830 0 0 0.1770 476.123 127.800)" font-size="100" style="font-family:'Liberation Sans',sans-serif;" fill="#000"  >a</text>
<text transform="matrix(0.1926 0 0 0.1770 487.134 127.800)" font-size="100" style="font-family:'Liberation Sans',sans-serif;" fill="#000"  >v</text>
<text transform="matrix(0.1684 0 0 0.1770 496.485 127.800)" font-size="100" style="font-family:'Liberation Sans',sans-serif;" fill="#000"  >e</text>
<text transform="matrix(0.2141 0 0 0.1770 506.655 127.800)" font-size="100" style="font-family:'Liberation Sans',sans-serif;" fill="#000"  >+</text>
<text transform="matrix(0.1578 0 0 0.1770 522.705 127.800)" font-size="100" style="font-family:'Liberation Sans',sans-serif;" fill="#000"  >P</text>
<text transform="matrix(0.2499 0 0 0.1770 530.890 127.800)" font-size="100" style="font-family:'Liberation Sans',sans-serif;" fill="#000"  >-</text>
<text transform="matrix(0.1914 0 0 0.1770 538.228 127.800)" font-size="100" style="font-family:'Liberation Sans',sans-serif;" fill="#000"  >w</text>
<text transform="matrix(0.1791 0 0 0.1770 552.539 127.800)" font-size="100" style="font-family:'Liberation Sans',sans-serif;" fill="#000"  >a</text>
<text transform="matrix(0.1906 0 0 0.1770 563.235 127.800)" font-size="100" style="font-family:'Liberation Sans',sans-serif;" fill="#000"  >v</text>
<text transform="matrix(0.1726 0 0 0.1770 572.667 127.800)" font-size="100" style="font-family:'Liberation Sans',sans-serif;" fill="#000"  >e</text>
<text transform="matrix(0.1668 0 0 0.1770 445.543 189.700)" font-size="100" style="font-family:'Liberation Sans',sans-serif;" fill="#000"  >S</text>
<text transform="matrix(0.2580 0 0 0.1770 453.553 189.700)" font-size="100" style="font-family:'Liberation Sans',sans-serif;" fill="#000"  >-</text>
<text transform="matrix(0.1928 0 0 0.1770 461.628 189.700)" font-size="100" style="font-family:'Liberation Sans',sans-serif;" fill="#000"  >w</text>
<text transform="matrix(0.1830 0 0 0.1770 476.123 189.700)" font-size="100" style="font-family:'Liberation Sans',sans-serif;" fill="#000"  >a</text>
<text transform="matrix(0.1926 0 0 0.1770 487.134 189.700)" font-size="100" style="font-family:'Liberation Sans',sans-serif;" fill="#000"  >v</text>
<text transform="matrix(0.1684 0 0 0.1770 496.485 189.700)" font-size="100" style="font-family:'Liberation Sans',sans-serif;" fill="#000"  >e</text>
<text transform="matrix(0.2141 0 0 0.1770 506.655 189.700)" font-size="100" style="font-family:'Liberation Sans',sans-serif;" fill="#000"  >+</text>
<text transform="matrix(0.1702 0 0 0.1770 522.127 189.700)" font-size="100" style="font-family:'Liberation Sans',sans-serif;" fill="#000"  >S</text>
<text transform="matrix(0.2540 0 0 0.1770 530.572 189.700)" font-size="100" style="font-family:'Liberation Sans',sans-serif;" fill="#000"  >-</text>
<text transform="matrix(0.1914 0 0 0.1770 538.228 189.700)" font-size="100" style="font-family:'Liberation Sans',sans-serif;" fill="#000"  >w</text>
<text transform="matrix(0.1791 0 0 0.1770 552.539 189.700)" font-size="100" style="font-family:'Liberation Sans',sans-serif;" fill="#000"  >a</text>
<text transform="matrix(0.1906 0 0 0.1770 563.235 189.700)" font-size="100" style="font-family:'Liberation Sans',sans-serif;" fill="#000"  >v</text>
<text transform="matrix(0.1726 0 0 0.1770 572.667 189.700)" font-size="100" style="font-family:'Liberation Sans',sans-serif;" fill="#000"  >e</text>
<text transform="matrix(0.2619 0 0 0.2417 77.849 126.200)" font-size="100" style="font-family:'Liberation Serif',serif;" fill="#64456a" >2</text>
<text transform="matrix(0.2635 0 0 0.2413 89.741 126.200)" font-size="100" style="font-family:'Liberation Serif',serif;" fill="#64456a" >Π</text>
<text transform="matrix(0.1914 0 0 0.1536 109.491 129.730)" font-size="100" style="font-family:'Liberation Serif',serif;font-style:italic;" fill="#64456a" >g</text>
<text transform="matrix(0.2216 0 0 0.2696 72.253 192.000)" font-size="100" style="font-family:'Liberation Serif',serif;" fill="#262626" >1</text>
<text transform="matrix(0.2711 0 0 0.2688 83.719 192.000)" font-size="100" style="font-family:'Liberation Serif',serif;" fill="#262626" >Π</text>
<text transform="matrix(0.1914 0 0 0.1829 104.491 196.107)" font-size="100" style="font-family:'Liberation Serif',serif;font-style:italic;" fill="#262626" >g</text>
<text transform="matrix(0.2227 0 0 0.2411 147.734 155.765)" font-size="100" style="font-family:'Liberation Serif',serif;" fill="#f5993a" >3</text>
<path d="M160.10 139.60 L172.93 139.60 L173.90 144.37 L173.42 144.37 L172.11 140.37 L160.10 140.37Z M160.10 139.60 L163.27 139.60 L168.17 147.15 L166.17 147.84Z M167.00 147.30 L168.17 147.15 L161.48 153.92 L160.10 153.92Z M160.10 153.46 L171.97 153.46 L173.42 149.30 L173.90 149.30 L173.07 155.00 L160.10 155.00Z " fill="#f5993a"/>
<text transform="matrix(0.1808 0 0 0.1536 174.991 160.730)" font-size="100" style="font-family:'Liberation Serif',serif;font-style:italic;" fill="#f5993a" >g</text>
<path d="M175.5 141.8H187M181.2 136V147.5" stroke="#f5993a" stroke-width="1" fill="none"/>
<text transform="matrix(0.2420 0 0 0.2311 88.737 238.800)" font-size="100" style="font-family:'Liberation Serif',serif;" fill="#f22d2d" >2</text>
<path d="M101.00 223.50 L113.83 223.50 L114.80 228.24 L114.32 228.24 L113.01 224.26 L101.00 224.26Z M101.00 223.50 L104.17 223.50 L109.07 231.00 L107.07 231.69Z M107.90 231.15 L109.07 231.00 L102.38 237.73 L101.00 237.73Z M101.00 237.27 L112.87 237.27 L114.32 233.14 L114.80 233.14 L113.97 238.80 L101.00 238.80Z " fill="#f22d2d"/>
<text transform="matrix(0.1765 0 0 0.1434 116.191 243.948)" font-size="100" style="font-family:'Liberation Serif',serif;font-style:italic;" fill="#f22d2d" >g</text>
<path d="M116.5 225.5H128M122.2 219.5V231" stroke="#f22d2d" stroke-width="1" fill="none"/>
<text transform="matrix(0.2017 0 0 0.2348 88.727 341.300)" font-size="100" style="font-family:'Liberation Serif',serif;" fill="#3b3bf2" >1</text>
<path d="M101.20 326.00 L114.78 326.00 L115.80 330.77 L115.29 330.77 L113.90 326.77 L101.20 326.77Z M101.20 326.00 L104.56 326.00 L109.74 333.55 L107.62 334.24Z M108.50 333.70 L109.74 333.55 L102.66 340.32 L101.20 340.32Z M101.20 339.86 L113.76 339.86 L115.29 335.70 L115.80 335.70 L114.92 341.40 L101.20 341.40Z " fill="#3b3bf2"/>
<text transform="matrix(0.1765 0 0 0.1565 117.391 347.168)" font-size="100" style="font-family:'Liberation Serif',serif;font-style:italic;" fill="#3b3bf2" >g</text>
<path d="M117.9 327.6H129.8M123.8 321.7V333.6" stroke="#3b3bf2" stroke-width="1" fill="none"/>
</svg>
</body></html>
